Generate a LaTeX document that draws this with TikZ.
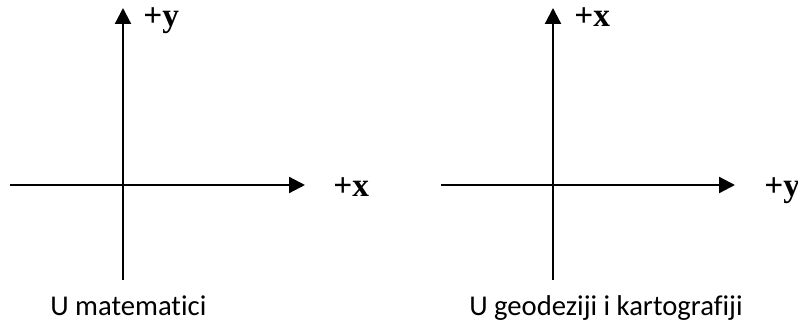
\documentclass[tikz,border=0pt]{standalone}
\usepackage{fontspec}
\setmainfont{Liberation Serif}
\newfontfamily\capfont[Ligatures=NoCommon]{Carlito}
\usetikzlibrary{arrows.meta}

\begin{document}
\begin{tikzpicture}[
  x=0.75pt,
  y=0.75pt,
  axis/.style={-{Triangle[length=12pt,width=12pt]},line width=1.7pt},
  lab/.style={anchor=base west,inner sep=0pt,font=\fontsize{25}{29}\selectfont\bfseries},
  title/.style={anchor=base west,inner sep=0pt,font=\capfont\fontsize{21.5}{26}\selectfont}
]
\useasboundingbox (0,0) rectangle (798,325);
% U matematici
\coordinate (mS) at (123,45);
\coordinate (mN) at (123,317);
\coordinate (mW) at (10,140);
\coordinate (mE) at (305,140);
\draw[axis] (mS) -- (mN);
\draw[axis] (mW) -- (mE);
\node[lab] (my) at (143,298) {+y};
\node[lab] (mx) at (333,128) {+x};
\node[title] (mtitle) at (50,10) {U matematici};
% U geodeziji i kartografiji
\coordinate (gS) at (553,45);
\coordinate (gN) at (553,317);
\coordinate (gW) at (441,140);
\coordinate (gE) at (735,140);
\draw[axis] (gS) -- (gN);
\draw[axis] (gW) -- (gE);
\node[lab] (gx) at (574,298) {+x};
\node[lab] (gy) at (764,128) {+y};
\node[title] (gtitle) at (469,10) {U geodeziji i kartografiji};
\end{tikzpicture}
\end{document}
